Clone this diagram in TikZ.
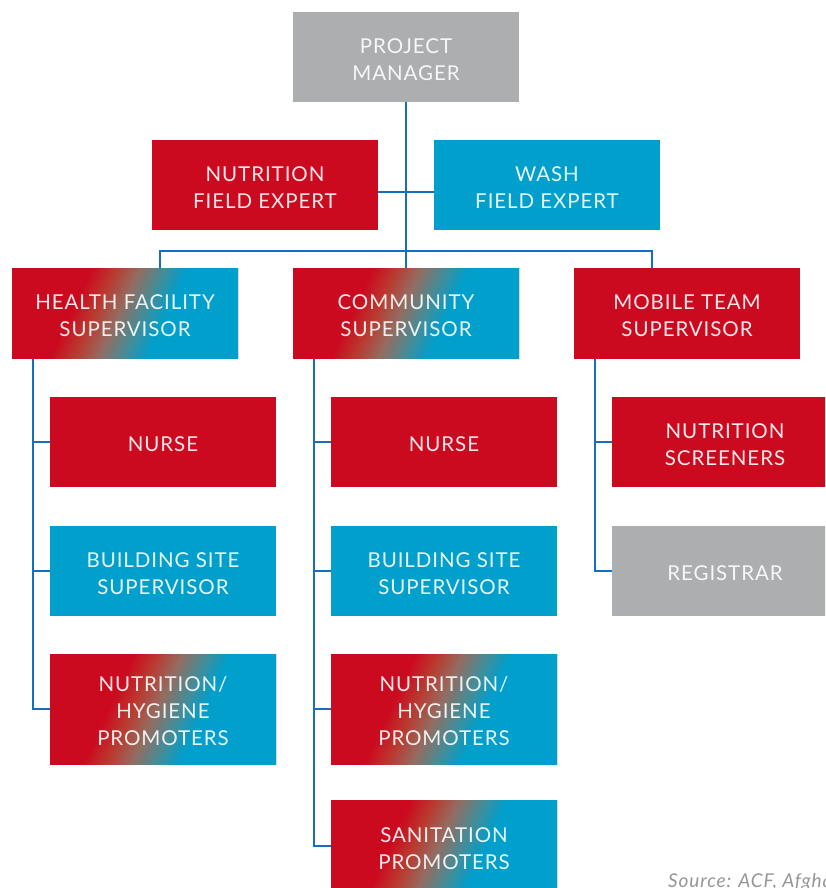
\documentclass[tikz,border=0pt]{standalone}
\usepackage{fontspec}
\setmainfont{Lato}
\newfontfamily\boxfont{Lato}[LetterSpace=4.5]
\definecolor{acred}{RGB}{204,10,31}
\definecolor{acblue}{RGB}{0,159,204}
\definecolor{acgray}{RGB}{173,174,176}
\definecolor{gA}{RGB}{186,58,48}
\definecolor{gB}{RGB}{148,108,96}
\definecolor{gC}{RGB}{72,140,150}
\definecolor{linec}{RGB}{22,110,190}
\definecolor{srcgray}{RGB}{150,150,150}
% gradient background of a 226 wide box centred at (#1,#2), #3 high (picture units = px, y down)
\newcommand{\gradbg}[3]{%
  \begin{scope}
    \clip ({#1-113},{#2-#3/2}) rectangle ({#1+113},{#2+#3/2});
    \fill[acred] ({#1-120},{#2-#3/2-8}) rectangle ({#1+120},{#2+#3/2+8});
    \foreach \ca/\cb [count=\s from 0] in {acred/gA, gA/gB, gB/gC, gC/acblue} {
      \foreach \k in {0,...,9} {
        \pgfmathsetmacro\xa{-54+24*\s+2.4*\k}
        \pgfmathsetmacro\xb{\xa+2.8}
        \pgfmathtruncatemacro\pct{95-10*\k}
        \fill[\ca!\pct!\cb] ({#1+\xa+28},{#2-60}) -- ({#1+\xb+28},{#2-60})
          -- ({#1+\xb-28},{#2+60}) -- ({#1+\xa-28},{#2+60}) -- cycle;
      }
    }
    \fill[acblue] ({#1+42+28},{#2-60}) -- ({#1+200},{#2-60}) -- ({#1+200},{#2+60}) -- ({#1+42-28},{#2+60}) -- cycle;
  \end{scope}}
\tikzset{
  box/.style={minimum width=226pt, minimum height=90.5pt, inner sep=0pt, align=center,
    text=white, text opacity=0.9, font=\boxfont\fontsize{20.5}{27}\selectfont,
    text depth=0pt, execute at begin node={\rule{0pt}{19.7pt}}},
  ml/.style={text height=46.7pt},
  mlthree/.style={text height=73.7pt},
  redbox/.style={box, fill=acred},
  bluebox/.style={box, fill=acblue},
  graybox/.style={box, fill=acgray},
  gradbox/.style={box},
  conn/.style={draw=linec, line width=2.6pt}
}
\begin{document}
\begin{tikzpicture}[x=1pt,y=-1pt]
\useasboundingbox (0,0) rectangle (825,888);
\clip (0,0) rectangle (825,888);
\gradbg{125}{313.5}{90.5}
\gradbg{406}{313.5}{90.5}
\gradbg{163}{709}{110}
\gradbg{444}{709}{110}
\gradbg{444}{846}{90.5}
\node[graybox, ml] (pm) at (406,57) {PROJECT\\MANAGER};
\node[redbox, ml] (nfe) at (265,185) {NUTRITION\\FIELD EXPERT};
\node[bluebox, ml] (wfe) at (547,185) {WASH\\FIELD EXPERT};
\node[gradbox, ml] (hfs) at (125,313.5) {HEALTH FACILITY\\SUPERVISOR};
\node[gradbox, ml] (cs) at (406,313.5) {COMMUNITY\\SUPERVISOR};
\node[redbox, ml] (mts) at (687,313.5) {MOBILE TEAM\\SUPERVISOR};
\node[redbox] (hn) at (163,442) {NURSE};
\node[bluebox, ml] (hb) at (163,571) {BUILDING SITE\\SUPERVISOR};
\node[gradbox, mlthree, minimum height=110pt] (hp) at (163,709) {NUTRITION/\\HYGIENE\\PROMOTERS};
\node[redbox] (cn) at (444,442) {NURSE};
\node[bluebox, ml] (cb) at (444,571) {BUILDING SITE\\SUPERVISOR};
\node[gradbox, mlthree, minimum height=110pt] (cp) at (444,709) {NUTRITION/\\HYGIENE\\PROMOTERS};
\node[gradbox, ml] (csan) at (444,846) {SANITATION\\PROMOTERS};
\node[redbox, ml] (mn) at (725,442) {NUTRITION\\SCREENERS};
\node[graybox] (mr) at (725,571) {REGISTRAR};
\coordinate (jl) at (160,251);
\coordinate (jr) at (652,251);
\coordinate (xl) at (33,0);
\coordinate (xc) at (314,0);
\coordinate (xm) at (595,0);
\draw[conn] (pm.south) -- (cs.north);
\draw[conn] ([yshift=-7pt]nfe.east) -- ([yshift=-7pt]wfe.west);
\draw[conn] (hfs.north -| jl) -- (jl) -- (jr) -- (jr |- mts.north);
\draw[conn] (hfs.south -| xl) |- (hp.west);
\draw[conn] (hn.west) -- (hn.west -| xl);
\draw[conn] (hb.west) -- (hb.west -| xl);
\draw[conn] (cs.south -| xc) |- (csan.west);
\draw[conn] (cn.west) -- (cn.west -| xc);
\draw[conn] (cb.west) -- (cb.west -| xc);
\draw[conn] (cp.west) -- (cp.west -| xc);
\draw[conn] (mts.south -| xm) |- (mr.west);
\draw[conn] (mn.west) -- (mn.west -| xm);
\node[anchor=base west, text=srcgray, font=\boxfont\fontsize{19}{22}\selectfont\itshape, inner sep=0pt] (src) at (668,887) {Source: ACF, Afghanistan};
\end{tikzpicture}
\end{document}
